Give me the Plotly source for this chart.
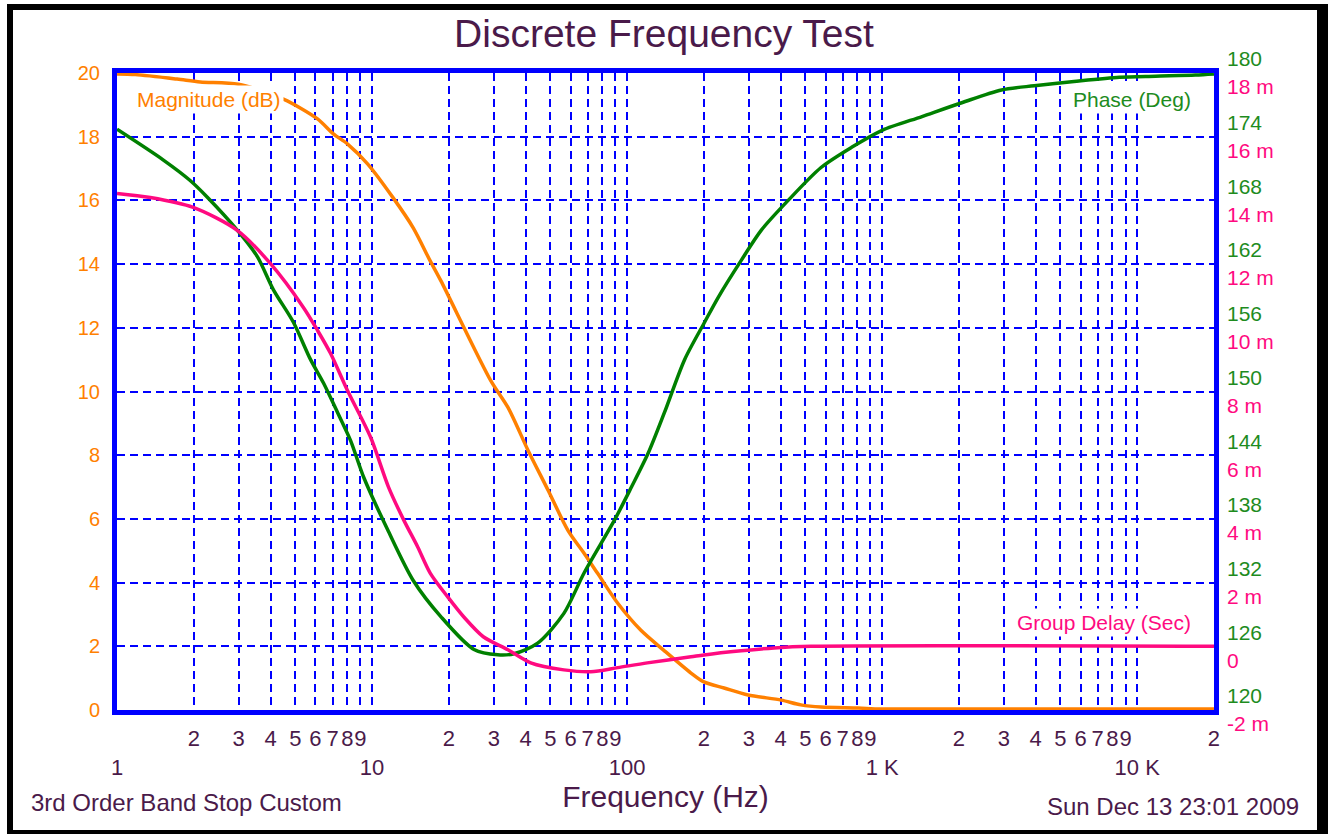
import plotly.graph_objects as go
import numpy as np

# ---- data ----
mag_freq = [1, 1.18, 1.72, 2.12, 2.99, 4.49, 6.11, 7.05, 8.02, 9.6, 12.1, 14.5, 16.9, 18.6,
            29.2, 34.1, 40.9, 49.0, 58.6, 67.8, 76.6, 91.9, 113, 139, 178, 200, 240,
            298, 402, 480, 576, 806, 1000, 20000]
mag_db = [19.97, 19.95, 19.81, 19.72, 19.65, 19.18, 18.56, 18.09, 17.77, 17.15, 16.08, 15.14, 14.1, 13.48,
          10.34, 9.5, 8.15, 6.9, 5.64, 4.92, 4.29, 3.35, 2.51, 1.88, 1.16, 0.88, 0.69,
          0.47, 0.31, 0.16, 0.09, 0.06, 0.03, 0.03]

ph_freq = [1, 1.52, 1.93, 2.26, 2.96, 3.55, 4.1, 4.92, 5.74, 6.45, 7.33, 8.23, 9.28, 11.5, 14.5,
           18.6, 25.1, 31.1, 36.0, 44.6, 56.5, 67.8, 89.3, 104, 121, 140, 168, 201, 228, 281,
           336, 428, 576, 759, 1000, 1433, 2051, 2937, 3950, 5650, 8520, 11800, 16900, 20000]
ph_deg = [174.7, 171.8, 169.9, 168.3, 165.2, 162.7, 159.6, 156.5, 153.0, 150.8, 148.0, 145.4, 141.9, 137.0, 132.2,
          128.8, 125.7, 125.2, 125.3, 126.3, 129.1, 132.9, 137.9, 141.0, 144.2, 148.0, 153.0, 156.5, 158.9, 162.4,
          165.2, 168.0, 171.1, 173.0, 174.6, 175.9, 177.2, 178.4, 178.8, 179.2, 179.6, 179.7, 179.8, 179.9]

gd_freq = [1, 1.35, 1.99, 2.96, 3.99, 5.38, 6.11, 6.87, 8.0, 9.86, 11.6, 13.3, 15.1, 16.9, 19.8,
           22.9, 27.3, 34.1, 41.9, 56.5, 72.1, 91.9, 120, 178, 200, 280, 377, 527, 20000]
gd_ms = [14.22, 14.09, 13.78, 13.06, 12.02, 10.64, 9.92, 9.20, 8.04, 6.57, 5.0, 3.97, 3.12, 2.30, 1.55,
         0.92, 0.30, -0.11, -0.52, -0.74, -0.80, -0.67, -0.52, -0.33, -0.27, -0.14, -0.05, 0.0, 0.0]

# tick definitions
decades = [1, 10, 100, 1000, 10000]
decade_labels = ["1", "10", "100", "1 K", "10 K"]
minor_digits = [2, 3, 4, 5, 6, 7, 8, 9]
mag_ticks = [0, 2, 4, 6, 8, 10, 12, 14, 16, 18, 20]
ph_ticks = [120, 126, 132, 138, 144, 150, 156, 162, 168, 174, 180]
gd_ticks = [-2, 0, 2, 4, 6, 8, 10, 12, 14, 16, 18]
gd_labels = ["-2 m", "0", "2 m", "4 m", "6 m", "8 m", "10 m", "12 m", "14 m", "16 m", "18 m"]

xt_vals, xt_text = [], []
for d, lab in zip(decades, decade_labels):
    xt_vals.append(d)
    xt_text.append(" <br>" + lab)
    for m in minor_digits:
        xt_vals.append(m * d)
        xt_text.append(str(m))
xt_vals.append(20000)
xt_text.append("2")

ORANGE = "#FF8000"
GREEN = "#008000"
PINK = "#FF0A80"
BLUE = "#0000FF"
PURPLE = "#4A1A4A"
FONT = "Liberation Sans, Arial, sans-serif"

W, H = 1328, 834
L, R, T, B = 117, 114, 73, 124
pw, ph = W - L - R, H - T - B

def px(xp):
    return (xp - L) / pw

def py(yp):
    return (H - B - yp) / ph

fig = go.Figure()
fig.add_trace(go.Scatter(x=gd_freq, y=gd_ms, yaxis="y3", mode="lines",
                         line=dict(color=PINK, width=3.5, shape="spline", smoothing=0.8),
                         name="Group Delay (Sec)"))
fig.add_trace(go.Scatter(x=mag_freq, y=mag_db, yaxis="y", mode="lines",
                         line=dict(color=ORANGE, width=3.5, shape="spline", smoothing=0.8),
                         name="Magnitude (dB)"))
fig.add_trace(go.Scatter(x=ph_freq, y=ph_deg, yaxis="y2", mode="lines",
                         line=dict(color=GREEN, width=3.5, shape="spline", smoothing=0.8),
                         name="Phase (Deg)"))

grid = dict(showgrid=True, gridcolor=BLUE, gridwidth=2, griddash="8px,5px")

fig.update_layout(
    width=W, height=H,
    margin=dict(l=L, r=R, t=T, b=B, autoexpand=False),
    paper_bgcolor="white", plot_bgcolor="rgba(0,0,0,0)",
    showlegend=False,
    font=dict(family=FONT, color=PURPLE),
    title=dict(text="Discrete Frequency Test", x=0.5, xanchor="center",
               y=1 - 33 / H, yanchor="middle", yref="container",
               font=dict(size=39, color=PURPLE, family=FONT)),
    xaxis=dict(type="log", range=[np.log10(1) - 1e-4, np.log10(20000) + 1e-4],
               tickmode="array", tickvals=xt_vals, ticktext=xt_text, ticks="",
               tickfont=dict(size=22, color=PURPLE), tickangle=0,
               ticklabelstandoff=5,
               showline=True, linecolor=BLUE, linewidth=5, mirror=True,
               layer="below traces", zeroline=False,
               title=dict(text="Frequency (Hz)", font=dict(size=30, color=PURPLE), standoff=6),
               **grid),
    yaxis=dict(range=[0 - 1e-3, 20 + 1e-3], tickmode="array", tickvals=mag_ticks, ticks="",
               tickfont=dict(size=20, color=ORANGE), ticklabelstandoff=8,
               showline=True, linecolor=BLUE, linewidth=5, mirror=True, zeroline=False,
               **grid),
    yaxis2=dict(range=[120, 180], overlaying="y", side="right", anchor="x",
                tickmode="array", tickvals=ph_ticks, ticks="", showgrid=False, zeroline=False,
                tickfont=dict(size=21, color="#1E8C1E"), ticklabelstandoff=12, ticklabelshift=-14,
                showline=False),
    yaxis3=dict(range=[-2, 18], overlaying="y", side="right", anchor="x",
                tickmode="array", tickvals=gd_ticks, ticktext=gd_labels, ticks="", showgrid=False,
                zeroline=False,
                tickfont=dict(size=21, color=PINK), ticklabelstandoff=12, ticklabelshift=14,
                showline=False),
)

# frame with shadow-like black border
fig.add_shape(type="rect", xref="paper", yref="paper", layer="below",
              x0=px(7), x1=px(1328), y0=py(834), y1=py(4),
              line=dict(width=0), fillcolor="black")
fig.add_shape(type="rect", xref="paper", yref="paper", layer="below",
              x0=px(13), x1=px(1317), y0=py(830), y1=py(10),
              line=dict(width=0), fillcolor="white")

fig.add_annotation(text="Magnitude (dB)", xref="paper", yref="paper",
                   x=px(134), y=py(99), xanchor="left", yanchor="middle", showarrow=False,
                   font=dict(size=21, color=ORANGE, family=FONT), bgcolor="white", borderpad=2)
fig.add_annotation(text="Phase (Deg)", xref="paper", yref="paper",
                   x=px(1194), y=py(100), xanchor="right", yanchor="middle", showarrow=False,
                   font=dict(size=21, color="#1E8C1E", family=FONT), bgcolor="white", borderpad=2)
fig.add_annotation(text="Group Delay (Sec)", xref="paper", yref="paper",
                   x=px(1194), y=py(622), xanchor="right", yanchor="middle", showarrow=False,
                   font=dict(size=21, color=PINK, family=FONT), bgcolor="white", borderpad=2)
fig.add_annotation(text="3rd Order Band Stop Custom", xref="paper", yref="paper",
                   x=px(29), y=py(802), xanchor="left", yanchor="middle", showarrow=False,
                   font=dict(size=24, color=PURPLE, family=FONT))
fig.add_annotation(text="Sun Dec 13 23:01 2009", xref="paper", yref="paper",
                   x=px(1301), y=py(806), xanchor="right", yanchor="middle", showarrow=False,
                   font=dict(size=24, color=PURPLE, family=FONT))

fig.write_html("out.html", config={"displayModeBar": False},
               post_script="document.body.style.margin='0px';document.body.style.overflow='hidden';")
